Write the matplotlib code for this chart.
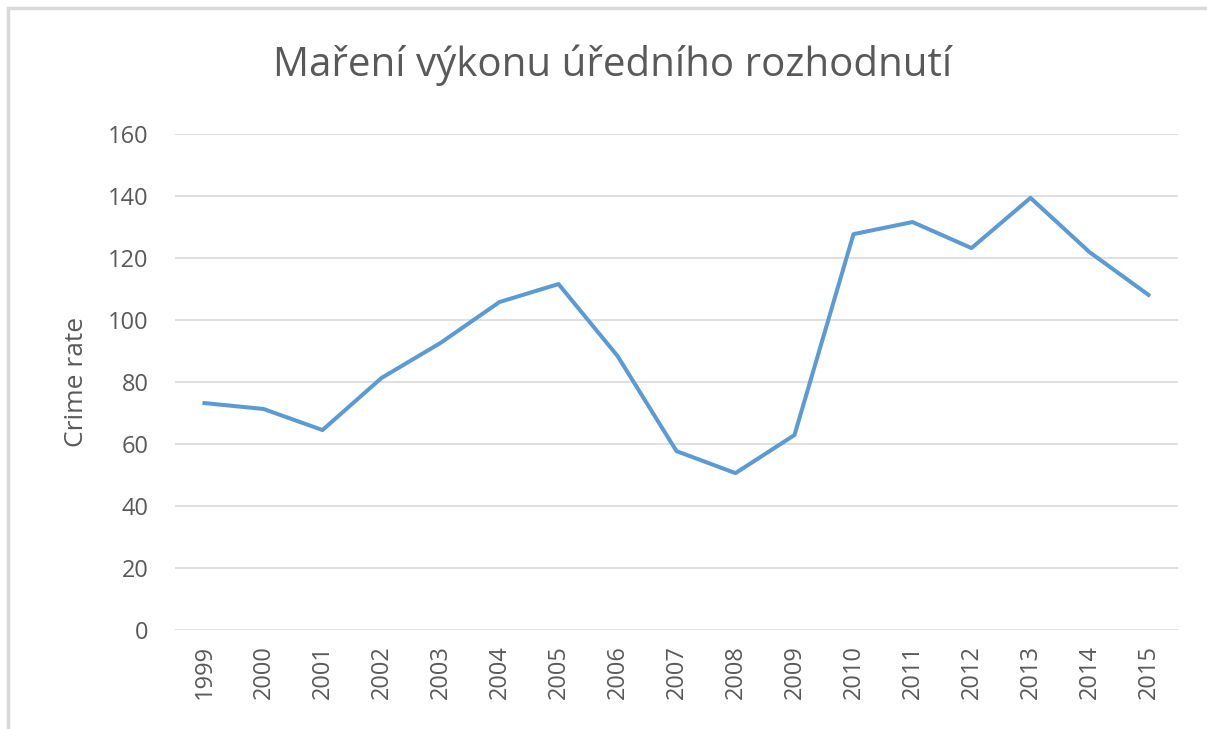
import numpy as np
import matplotlib.pyplot as plt
from matplotlib.patches import Rectangle

# Data
roky = ['1999', '2000', '2001', '2002', '2003', '2004', '2005', '2006', '2007',
        '2008', '2009', '2010', '2011', '2012', '2013', '2014', '2015']
hodnoty = [73.2, 71.3, 64.5, 81.3, 92.6, 105.8, 111.6, 88.4, 57.7,
           50.6, 62.9, 127.7, 131.6, 123.2, 139.4, 121.9, 108.1]
y_ticks = [0, 20, 40, 60, 80, 100, 120, 140, 160]

plt.rcParams['font.family'] = ['Open Sans', 'DejaVu Sans']
text_color = '#595959'

W, H = 1207, 729
fig = plt.figure(figsize=(W / 100, H / 100), dpi=100)
fig.patch.set_facecolor('white')

# chart border
fig.patches.append(Rectangle((8 / W, -0.1), 1.2, (H - 8) / H + 0.1, transform=fig.transFigure,
                             fill=False, edgecolor='#d9d9d9', linewidth=2.5, zorder=0))

ax = fig.add_axes([175 / W, 1 - 630 / H, (1178 - 175) / W, (630 - 134) / H])
x = np.arange(len(roky))
ax.plot(x, hodnoty, color='#5B9BD5', linewidth=2.9, solid_joinstyle='round', zorder=3)

ax.set_xlim(-0.5, len(roky) - 0.5)
ax.set_ylim(0, 160)
ax.set_yticks(y_ticks)
ax.set_xticks(x)
ax.set_xticklabels(roky, rotation=90)
ax.grid(axis='y', color='#d9d9d9', linewidth=1.2)
ax.set_axisbelow(True)
for s in ax.spines.values():
    s.set_visible(False)
ax.tick_params(length=0, labelsize=17, colors=text_color)
ax.tick_params(axis='y', pad=19)
ax.tick_params(axis='x', pad=11)
ax.set_ylabel('Crime rate', fontsize=19, color=text_color, labelpad=14)

fig.text(613 / W, 1 - 65 / H, 'Maření výkonu úředního rozhodnutí', ha='center', va='center',
         fontsize=29, color=text_color)

fig.savefig('out.png', dpi=100)
